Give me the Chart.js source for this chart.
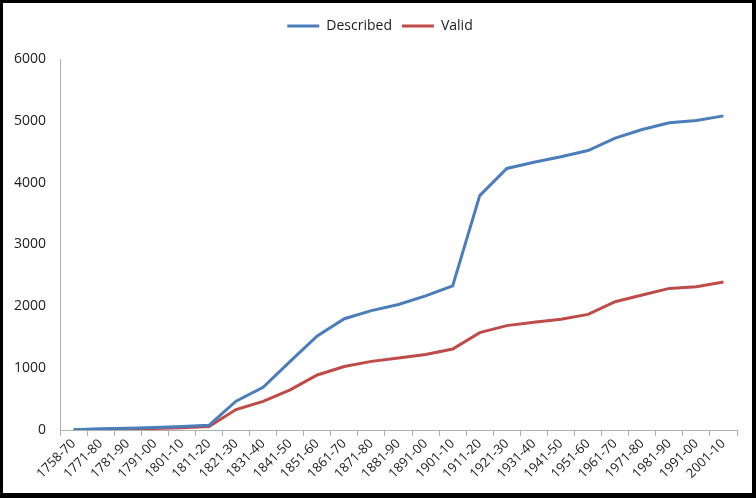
<!DOCTYPE html>
<html>
<head>
<meta charset="utf-8">
<script src="https://cdn.jsdelivr.net/npm/chart.js@4"></script>
<style>
  html, body { margin: 0; padding: 0; background: #000; }
  #frame {
    position: absolute; left: 3px; top: 3px;
    width: 749px; height: 490px; background: #fff;
  }
</style>
</head>
<body>
<div id="frame"><canvas id="chart" width="749" height="490"></canvas></div>
<script>
const periods = [
  "1758-70", "1771-80", "1781-90", "1791-00", "1801-10", "1811-20",
  "1821-30", "1831-40", "1841-50", "1851-60", "1861-70", "1871-80",
  "1881-90", "1891-00", "1901-10", "1911-20", "1921-30", "1931-40",
  "1941-50", "1951-60", "1961-70", "1971-80", "1981-90", "1991-00", "2001-10"
];
const described = [
  5, 20, 30, 40, 55, 75, 465, 690, 1110, 1520, 1800, 1930, 2030,
  2170, 2330, 3790, 4230, 4330, 4420, 4520, 4720, 4860, 4970, 5005, 5080
];
const valid = [
  0, 10, 20, 25, 35, 55, 330, 462, 650, 890, 1027, 1110, 1165,
  1220, 1310, 1575, 1688, 1742, 1790, 1870, 2075, 2183, 2290, 2317, 2395
];
const yTicks = [0, 1000, 2000, 3000, 4000, 5000, 6000];

const font = { family: "'Open Sans', sans-serif", size: 14 };
const smallFont = { family: "'Open Sans', sans-serif", size: 13 };

// room under the legend, and nudge it a bit to the right
const legendRoom = {
  id: "legendRoom",
  afterInit(chart) {
    const fit = chart.legend.fit;
    chart.legend.fit = function () {
      fit.call(this);
      this.height += 16;
    };
  },
  afterLayout(chart) {
    chart.legend.left += 10;
    chart.legend.right += 10;
  },
};

new Chart(document.getElementById("chart"), {
  type: "line",
  data: {
    labels: periods,
    datasets: [
      {
        label: "Described",
        data: described,
        borderColor: "#4A7EBB",
        backgroundColor: "#4A7EBB",
        borderWidth: 3,
        pointRadius: 0,
        tension: 0,
      },
      {
        label: "Valid",
        data: valid,
        borderColor: "#BE4B48",
        backgroundColor: "#BE4B48",
        borderWidth: 3,
        pointRadius: 0,
        tension: 0,
      },
    ],
  },
  plugins: [legendRoom],
  options: {
    responsive: false,
    animation: false,
    layout: { padding: { top: 6, right: 15, bottom: 0, left: 0 } },
    plugins: {
      tooltip: { enabled: false },
      legend: {
        position: "top",
        labels: {
          font: font,
          color: "#1a1a1a",
          usePointStyle: true,
          pointStyle: "line",
          pointStyleWidth: 32,
          padding: 10,
        },
      },
    },
    scales: {
      x: {
        offset: true,
        grid: {
          offset: true,
          drawOnChartArea: false,
          tickLength: 6,
          color: "#b0b0b0",
        },
        border: { color: "#b0b0b0" },
        ticks: {
          font: smallFont,
          color: "#1a1a1a",
          minRotation: 45,
          maxRotation: 45,
          autoSkip: false,
          padding: 0,
        },
        afterFit: (scale) => { scale.height = 63; },
      },
      y: {
        min: 0,
        max: 6000,
        afterBuildTicks: (scale) => {
          scale.ticks = yTicks.map((v) => ({ value: v }));
        },
        grid: { display: true, drawOnChartArea: false, tickLength: 0 },
        border: { color: "#b0b0b0" },
        ticks: {
          font: font,
          color: "#1a1a1a",
          padding: 14,
          callback: (v) => String(v),
        },
        afterFit: (scale) => { scale.width = 57; },
      },
    },
  },
});
</script>
</body>
</html>
